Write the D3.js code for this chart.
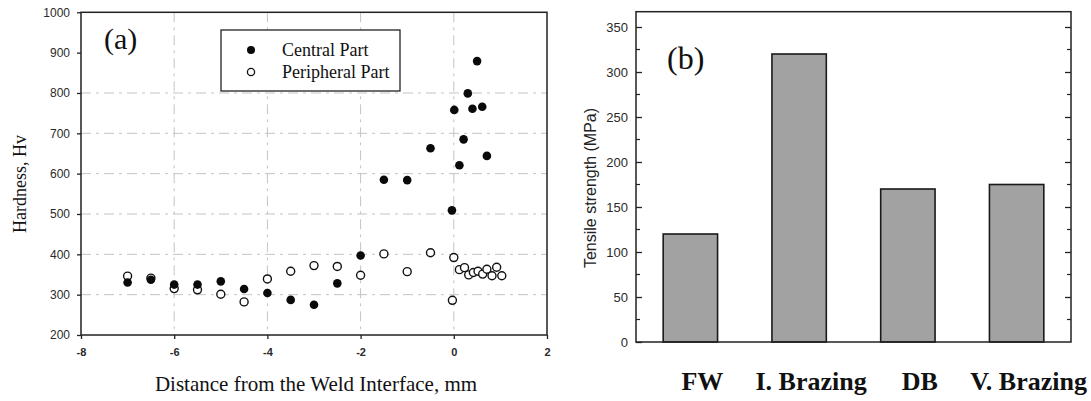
<!DOCTYPE html>
<html>
<head>
<meta charset="utf-8">
<style>
  body { margin: 0; background: #fff; }
  svg { display: block; }
  .tick text { fill: #2a2a2a; }
</style>
</head>
<body>
<svg id="chart" width="1091" height="401"></svg>
<script src="https://d3js.org/d3.v7.min.js"></script>
<script>
// (a) hardness profile
var centralX = [-7, -6.5, -6, -5.5, -5, -4.5, -4, -3.5, -3, -2.5, -2, -1.5, -1, -0.5, -0.04, 0.01, 0.12, 0.21, 0.3, 0.4, 0.5, 0.61, 0.71];
var centralY = [330, 337, 325, 325, 333, 314, 304, 287, 275, 328, 397, 585, 584, 663, 509, 758, 621, 685, 799, 761, 879, 766, 644];
var periphX = [-7, -6.5, -6, -5.5, -5, -4.5, -4, -3.5, -3, -2.5, -2, -1.5, -1, -0.5, -0.03, 0, 0.12, 0.23, 0.32, 0.42, 0.52, 0.62, 0.71, 0.82, 0.92, 1.03];
var periphY = [346, 341, 315, 312, 301, 282, 339, 358, 372, 370, 348, 401, 357, 404, 286, 392, 362, 367, 349, 355, 358, 351, 363, 347, 368, 347];
var xTicksA = [-8, -6, -4, -2, 0, 2];
var yTicksA = [200, 300, 400, 500, 600, 700, 800, 900, 1000];

// (b) tensile strength
var joints = ["FW", "I. Brazing", "DB", "V. Brazing"];
var strength = [120, 320, 170, 175];
var yTicksB = [0, 50, 100, 150, 200, 250, 300, 350];

var svg = d3.select("#chart");
var plain = function(d) { return String(d); };

// ---------- panel (a) ----------
var xA = d3.scaleLinear().domain([-8, 2]).range([81, 547]);
var yA = d3.scaleLinear().domain([200, 1000]).range([335, 12.3]);

var gA = svg.append("g");

// dash-dot grid
gA.selectAll("line.vg").data([-6, -4, -2, 0]).enter().append("line")
  .attr("x1", d => xA(d)).attr("x2", d => xA(d))
  .attr("y1", yA(1000)).attr("y2", yA(200))
  .attr("stroke", "#c4c4c4").attr("stroke-width", 1)
  .attr("stroke-dasharray", "10,5,3,5");
gA.selectAll("line.hg").data([300, 400, 500, 600, 700, 800]).enter().append("line")
  .attr("x1", xA(-8)).attr("x2", xA(2))
  .attr("y1", d => yA(d)).attr("y2", d => yA(d))
  .attr("stroke", "#c4c4c4").attr("stroke-width", 1)
  .attr("stroke-dasharray", "10,5,3,5");

// frame
gA.append("rect")
  .attr("x", xA(-8)).attr("y", yA(1000))
  .attr("width", xA(2) - xA(-8)).attr("height", yA(200) - yA(1000))
  .attr("fill", "none").attr("stroke", "#222").attr("stroke-width", 1.5);

var axA_x = gA.append("g")
  .attr("transform", "translate(0," + yA(200) + ")")
  .call(d3.axisBottom(xA).tickValues(xTicksA).tickSize(4).tickPadding(9).tickFormat(plain));
axA_x.select(".domain").remove();
axA_x.selectAll("text").style("font", "bold 11px Arial, 'Liberation Sans', sans-serif");
axA_x.selectAll("line").attr("stroke", "#222").attr("stroke-width", 1.3);

var axA_y = gA.append("g")
  .attr("transform", "translate(" + xA(-8) + ",0)")
  .call(d3.axisLeft(yA).tickValues(yTicksA).tickSize(4).tickPadding(7).tickFormat(plain));
axA_y.select(".domain").remove();
axA_y.selectAll("text").style("font", "12px Arial, 'Liberation Sans', sans-serif");
axA_y.selectAll("line").attr("stroke", "#222").attr("stroke-width", 1.3);

// points
gA.selectAll("circle.pp").data(periphX).enter().append("circle")
  .attr("cx", d => xA(d)).attr("cy", (d, i) => yA(periphY[i]))
  .attr("r", 4).attr("fill", "#fff").attr("stroke", "#111").attr("stroke-width", 1.4);
gA.selectAll("circle.cp").data(centralX).enter().append("circle")
  .attr("cx", d => xA(d)).attr("cy", (d, i) => yA(centralY[i]))
  .attr("r", 4.3).attr("fill", "#0a0a0a");

// legend
gA.append("rect").attr("x", 221).attr("y", 30).attr("width", 179).attr("height", 61)
  .attr("fill", "#fff").attr("stroke", "#222").attr("stroke-width", 1.3);
gA.append("circle").attr("cx", 251).attr("cy", 50).attr("r", 4).attr("fill", "#0a0a0a");
gA.append("circle").attr("cx", 251).attr("cy", 72).attr("r", 3.6)
  .attr("fill", "#fff").attr("stroke", "#111").attr("stroke-width", 1.3);
gA.append("text").attr("x", 282).attr("y", 56).text("Central Part")
  .style("font", "18px 'Liberation Serif', 'Times New Roman', serif").attr("fill", "#111");
gA.append("text").attr("x", 282).attr("y", 78).text("Peripheral Part")
  .style("font", "18px 'Liberation Serif', 'Times New Roman', serif").attr("fill", "#111");

gA.append("text").attr("x", 104).attr("y", 49).text("(a)")
  .style("font", "30px 'Liberation Serif', 'Times New Roman', serif").attr("fill", "#111");

gA.append("text").attr("x", 316).attr("y", 391).attr("text-anchor", "middle")
  .text("Distance from the Weld Interface, mm")
  .style("font", "21px 'Liberation Serif', 'Times New Roman', serif").attr("fill", "#111");
gA.append("text").attr("transform", "translate(26,184) rotate(-90)").attr("text-anchor", "middle")
  .text("Hardness, Hv")
  .style("font", "18px 'Liberation Serif', 'Times New Roman', serif").attr("fill", "#111");

// ---------- panel (b) ----------
var xB = d3.scaleBand().domain(joints).range([636, 1071]).paddingInner(0.5).paddingOuter(0.25);
var yB = d3.scaleLinear().domain([0, 367]).range([342, 11.7]);

var gB = svg.append("g");

gB.selectAll("rect.bar").data(strength).enter().append("rect")
  .attr("x", (d, i) => xB(joints[i])).attr("width", xB.bandwidth())
  .attr("y", d => yB(d)).attr("height", d => yB(0) - yB(d))
  .attr("fill", "#a2a2a2").attr("stroke", "#1a1a1a").attr("stroke-width", 1.6);

gB.append("rect")
  .attr("x", 636).attr("y", yB(367))
  .attr("width", 1071 - 636).attr("height", yB(0) - yB(367))
  .attr("fill", "none").attr("stroke", "#222").attr("stroke-width", 1.5);

var minorB = d3.range(25, 367, 50);

var axB_y = gB.append("g")
  .attr("transform", "translate(636,0)")
  .call(d3.axisLeft(yB).tickValues(yTicksB).tickSize(-6).tickPadding(8).tickFormat(plain));
axB_y.select(".domain").remove();
axB_y.selectAll("text").style("font", "13px Arial, 'Liberation Sans', sans-serif");
axB_y.selectAll("line").attr("stroke", "#222").attr("stroke-width", 1.3);

var axB_r = gB.append("g")
  .attr("transform", "translate(1071,0)")
  .call(d3.axisRight(yB).tickValues(yTicksB.slice(1)).tickSize(-6).tickFormat(""));
axB_r.select(".domain").remove();
axB_r.selectAll("line").attr("stroke", "#222").attr("stroke-width", 1.3);

gB.selectAll("line.mnl").data(minorB).enter().append("line")
  .attr("x1", 636).attr("x2", 640).attr("y1", d => yB(d)).attr("y2", d => yB(d))
  .attr("stroke", "#222").attr("stroke-width", 1.2);
gB.selectAll("line.mnr").data(minorB).enter().append("line")
  .attr("x1", 1067).attr("x2", 1071).attr("y1", d => yB(d)).attr("y2", d => yB(d))
  .attr("stroke", "#222").attr("stroke-width", 1.2);

gB.selectAll("text.cat").data(joints).enter().append("text")
  .attr("x", d => xB(d) + xB.bandwidth() / 2 + 12).attr("y", 390)
  .attr("text-anchor", "middle").text(d => d)
  .style("font", "bold 26px 'Liberation Serif', 'Times New Roman', serif").attr("fill", "#111");

gB.append("text").attr("x", 667).attr("y", 69).text("(b)")
  .style("font", "32px 'Liberation Serif', 'Times New Roman', serif").attr("fill", "#111");

gB.append("text").attr("transform", "translate(596,188) rotate(-90)").attr("text-anchor", "middle")
  .text("Tensile strength (MPa)")
  .style("font", "16px Arial, 'Liberation Sans', sans-serif").attr("fill", "#222");
</script>
</body>
</html>
